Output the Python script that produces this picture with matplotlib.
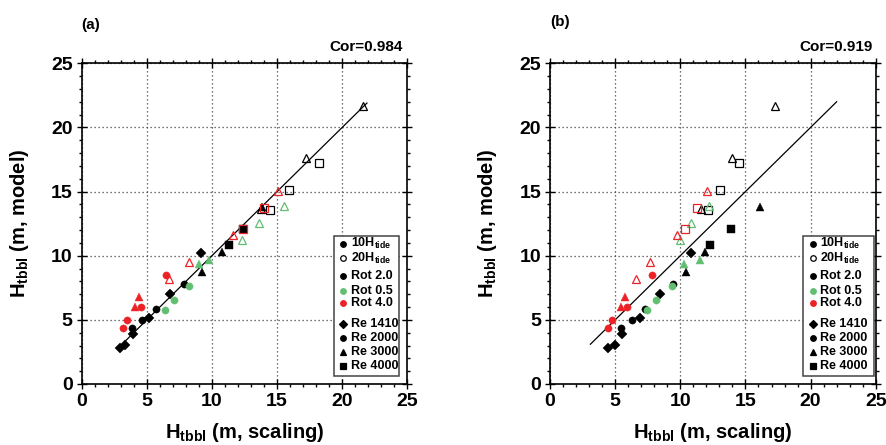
import matplotlib
matplotlib.use('Agg')
import matplotlib.pyplot as plt
from matplotlib.patches import Rectangle

plt.rcParams['font.family'] = ['Liberation Sans', 'DejaVu Sans']
plt.rcParams['font.weight'] = 'bold'
plt.rcParams['mathtext.fontset'] = 'custom'
plt.rcParams['mathtext.rm'] = 'Liberation Sans:bold'
plt.rcParams['mathtext.bf'] = 'Liberation Sans:bold'

BLACK = '#000000'
GREEN = '#62bf72'
RED = '#ec2226'

# H_tbbl from the model (y, shared by both panels) and from the two scalings (x)
# Rot 2.0, 10H_tide
r2_re1410_model = [2.78, 3.07, 3.91, 5.17, 7.04, 10.2]
r2_re1410_a = [2.94, 3.33, 3.91, 5.2, 6.78, 9.14]
r2_re1410_b = [4.48, 4.99, 5.53, 6.91, 8.44, 10.8]
r2_re2000_model = [4.39, 4.99, 5.87, 7.8]
r2_re2000_a = [3.84, 4.66, 5.71, 7.83]
r2_re2000_b = [5.42, 6.30, 7.29, 9.42]
r2_re3000_model = [8.75, 10.26, 13.8]
r2_re3000_a = [9.24, 10.78, 13.85]
r2_re3000_b = [10.44, 11.93, 16.15]
r2_re4000_model = [10.8, 12.11]
r2_re4000_a = [11.31, 12.41]
r2_re4000_b = [12.28, 13.87]
# Rot 2.0, 20H_tide
r2_re3000_20h_model = [13.65, 17.6, 21.65]
r2_re3000_20h_a = [13.75, 17.23, 21.63]
r2_re3000_20h_b = [11.59, 13.95, 17.27]
r2_re4000_20h_model = [13.53, 15.13, 17.2]
r2_re4000_20h_a = [14.44, 15.95, 18.23]
r2_re4000_20h_b = [12.15, 13.05, 14.54]
# Rot 0.5
r05_re2000_model = [5.8, 6.58, 7.66]
r05_re2000_a = [6.42, 7.11, 8.22]
r05_re2000_b = [7.45, 8.16, 9.39]
r05_re3000_model = [9.34, 9.66]
r05_re3000_a = [9.03, 9.8]
r05_re3000_b = [10.31, 11.54]
r05_re3000_20h_model = [11.25, 12.52, 13.9]
r05_re3000_20h_a = [12.34, 13.59, 15.56]
r05_re3000_20h_b = [10.0, 10.84, 12.2]
# Rot 4.0
r4_re2000_model = [4.39, 5.02, 6.0, 8.52]
r4_re2000_a = [3.15, 3.46, 4.53, 6.47]
r4_re2000_b = [4.48, 4.78, 5.89, 7.86]
r4_re3000_model = [5.98, 6.75]
r4_re3000_a = [4.09, 4.43]
r4_re3000_b = [5.48, 5.78]
r4_re3000_20h_model = [8.18, 9.5, 11.65, 15.08]
r4_re3000_20h_a = [6.73, 8.21, 11.6, 15.1]
r4_re3000_20h_b = [6.58, 7.65, 9.72, 12.08]
r4_re4000_20h_model = [12.11, 13.75]
r4_re4000_20h_a = [12.41, 14.0]
r4_re4000_20h_b = [10.39, 11.3]

# 1:1 line extent per panel
line_a = [2.8, 21.9]
line_b = [3.1, 22.0]
cor_labels = ['Cor=0.984', 'Cor=0.919']
panel_labels = ['(a)', '(b)']

marker_size = {'D': 4.6, 'o': 5.2, '^': 6.4, 's': 5.4}

# (model, scaling a, scaling b, marker, colour, filled) -- filled ones first
groups = [
    (r2_re1410_model, r2_re1410_a, r2_re1410_b, 'D', BLACK, True),
    (r2_re2000_model, r2_re2000_a, r2_re2000_b, 'o', BLACK, True),
    (r2_re3000_model, r2_re3000_a, r2_re3000_b, '^', BLACK, True),
    (r2_re4000_model, r2_re4000_a, r2_re4000_b, 's', BLACK, True),
    (r05_re2000_model, r05_re2000_a, r05_re2000_b, 'o', GREEN, True),
    (r05_re3000_model, r05_re3000_a, r05_re3000_b, '^', GREEN, True),
    (r4_re2000_model, r4_re2000_a, r4_re2000_b, 'o', RED, True),
    (r4_re3000_model, r4_re3000_a, r4_re3000_b, '^', RED, True),
    (r2_re3000_20h_model, r2_re3000_20h_a, r2_re3000_20h_b, '^', BLACK, False),
    (r2_re4000_20h_model, r2_re4000_20h_a, r2_re4000_20h_b, 's', BLACK, False),
    (r05_re3000_20h_model, r05_re3000_20h_a, r05_re3000_20h_b, '^', GREEN, False),
    (r4_re3000_20h_model, r4_re3000_20h_a, r4_re3000_20h_b, '^', RED, False),
    (r4_re4000_20h_model, r4_re4000_20h_a, r4_re4000_20h_b, 's', RED, False),
]

legend_rows = [
    ('o', BLACK, True, r'10H$_{\mathrm{tide}}$'),
    ('o', BLACK, False, r'20H$_{\mathrm{tide}}$'),
    ('o', BLACK, True, 'Rot 2.0'),
    ('o', GREEN, True, 'Rot 0.5'),
    ('o', RED, True, 'Rot 4.0'),
    ('D', BLACK, True, 'Re 1410'),
    ('o', BLACK, True, 'Re 2000'),
    ('^', BLACK, True, 'Re 3000'),
    ('s', BLACK, True, 'Re 4000'),
]
legend_y = [0.438, 0.392, 0.338, 0.291, 0.252, 0.187, 0.144, 0.100, 0.056]
legend_ms = {'o': 4.0, 'D': 3.8, '^': 5.0, 's': 4.2}


def draw_legend(ax, x0, x1):
    ax.add_patch(Rectangle((x0, 0.024), x1 - x0, 0.437, transform=ax.transAxes,
                           facecolor='white', edgecolor='#444444', lw=1.1, zorder=5))
    for (m, c, filled, label), y in zip(legend_rows, legend_y):
        ax.plot([x0 + 0.028], [y], marker=m, ms=legend_ms[m], ls='none',
                mfc=c if filled else 'white', mec=c, mew=0.9,
                transform=ax.transAxes, zorder=6, clip_on=False)
        ax.text(x0 + 0.052, y, label, transform=ax.transAxes, fontsize=9,
                fontweight='bold', va='center', ha='left', zorder=6)


def draw_panel(ax, which, line_ext):
    ax.plot(line_ext, line_ext, color='black', lw=0.9, zorder=2)
    for model, xa, xb, m, c, filled in groups:
        xs = xa if which == 0 else xb
        ax.plot(xs, model, marker=m, ms=marker_size[m], ls='none',
                mfc=c if filled else 'none', mec=c, mew=0.9 if not filled else 0.3,
                zorder=3)
    ax.set_xlim(0, 25)
    ax.set_ylim(0, 25)
    ax.set_xticks(range(0, 26, 5))
    ax.set_yticks(range(0, 26, 5))
    ax.set_xticks(range(0, 26), minor=True)
    ax.set_yticks(range(0, 26), minor=True)
    ax.grid(True, which='major', color='#444444', ls=(0, (1, 2.2)), lw=0.9)
    ax.set_axisbelow(True)
    ax.tick_params(which='both', top=True, right=True, labelsize=14, width=1.0)
    ax.tick_params(which='major', direction='inout', length=7, pad=3)
    ax.tick_params(which='minor', direction='out', length=2.5)
    for s in ax.spines.values():
        s.set_linewidth(1.2)
    for lab in ax.get_xticklabels() + ax.get_yticklabels():
        lab.set_fontweight('bold')
    ax.set_xlabel(r'H$_{\mathrm{tbbl}}$ (m, scaling)', fontsize=14.5, fontweight='bold')
    ax.set_ylabel(r'H$_{\mathrm{tbbl}}$ (m, model)', fontsize=14.5, fontweight='bold')
    ax.xaxis.set_label_coords(0.5, -0.116)
    ax.yaxis.set_label_coords(-0.156, 0.5)


fig = plt.figure(figsize=(8.87, 4.45), dpi=100)
ax_a = fig.add_axes([0.0921, 0.1371, 0.3671, 0.7207])
ax_b = fig.add_axes([0.6201, 0.1371, 0.3672, 0.7207])

draw_panel(ax_a, 0, line_a)
draw_panel(ax_b, 1, line_b)
draw_legend(ax_a, 0.775, 0.974)
draw_legend(ax_b, 0.778, 0.996)

fig.text(0.0921, 0.943, panel_labels[0], fontsize=11, fontweight='bold', va='center')
fig.text(0.6209, 0.951, panel_labels[1], fontsize=11, fontweight='bold', va='center')
fig.text(0.4536, 0.8937, cor_labels[0], fontsize=11, fontweight='bold', ha='right', va='center')
fig.text(0.9834, 0.8937, cor_labels[1], fontsize=11, fontweight='bold', ha='right', va='center')

fig.savefig('out.png', dpi=100)
